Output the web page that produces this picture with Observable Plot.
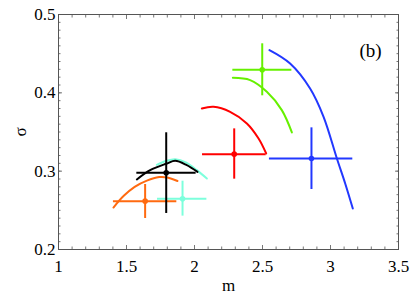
<!DOCTYPE html>
<html>
<head>
<meta charset="utf-8">
<script src="https://cdn.jsdelivr.net/npm/d3@7"></script>
<script src="https://cdn.jsdelivr.net/npm/@observablehq/plot@0.6"></script>
<style>
  html, body { margin: 0; padding: 0; background: #fff; }
  svg { display: block; }
  svg text { font-family: "Liberation Serif", "Times New Roman", serif; }
</style>
</head>
<body>
<div id="chart"></div>
<script>
// Series (named by id so they are not read as CSS colours)
const series = ["S1", "S2", "S3", "S4", "S5", "S6"];
const colors = ["#ff6a10", "#7dffdc", "#000000", "#ff0000", "#66f000", "#2238ff"];

// Points with error bars (m, sigma)
const pointM   = [1.637, 1.912, 1.792, 2.292, 2.498, 2.860];
const pointS   = [0.2617, 0.2647, 0.2979, 0.3217, 0.4294, 0.3162];
const mLow     = [1.404, 1.728, 1.576, 2.059, 2.282, 2.551];
const mHigh    = [1.870, 2.091, 2.012, 2.527, 2.716, 3.164];
const sLow     = [0.2396, 0.2426, 0.246, 0.2898, 0.3962, 0.2766];
const sHigh    = [0.283, 0.2872, 0.349, 0.354, 0.4626, 0.3553];

// Curves
const orangeCurveM = [1.404, 1.48, 1.56, 1.65, 1.74, 1.80, 1.875];
const orangeCurveS = [0.2536, 0.2685, 0.2800, 0.2880, 0.2925, 0.2920, 0.2875];
const cyanCurveM = [1.723, 1.79, 1.858, 1.94, 2.017, 2.091];
const cyanCurveS = [0.3081, 0.3130, 0.3153, 0.3110, 0.3013, 0.2906];
const blackCurveM = [1.576, 1.674, 1.797, 1.858, 1.94, 2.022];
const blackCurveS = [0.2894, 0.3013, 0.3098, 0.3132, 0.3080, 0.2991];
const redCurveM = [2.054, 2.140, 2.262, 2.385, 2.471, 2.527];
const redCurveS = [0.380, 0.3821, 0.3757, 0.3609, 0.3417, 0.3226];
const greenCurveM = [2.282, 2.409, 2.532, 2.642, 2.716];
const greenCurveS = [0.4191, 0.4162, 0.4013, 0.3779, 0.3494];
const blueCurveM = [2.551, 2.703, 2.850, 2.949, 3.047, 3.108, 3.164];
const blueCurveS = [0.4545, 0.4374, 0.4055, 0.3694, 0.3162, 0.2843, 0.2523];

// Axis ticks
const xTicks = [1, 1.5, 2, 2.5, 3, 3.5];
const yTicks = [0.2, 0.3, 0.4, 0.5];
const xMinor = d3.range(10, 36).map(d => d / 10);
const yMinor = d3.range(20, 51).map(d => d / 100);

const curveSets = [
  ["S2", cyanCurveM, cyanCurveS],
  ["S1", orangeCurveM, orangeCurveS],
  ["S3", blackCurveM, blackCurveS],
  ["S4", redCurveM, redCurveS],
  ["S5", greenCurveM, greenCurveS],
  ["S6", blueCurveM, blueCurveS]
];
const curves = curveSets.flatMap(([name, ms, ss]) => ms.map((m, i) => ({name, m, s: ss[i]})));
const points = series.map((name, i) => ({
  name, m: pointM[i], s: pointS[i], m1: mLow[i], m2: mHigh[i], s1: sLow[i], s2: sHigh[i]
}));
const order = ["S2", "S1", "S3", "S4", "S5", "S6"];
const pts = order.map(n => points.find(p => p.name === n));

const tickStroke = "#777";
const font = "Liberation Serif, Times New Roman, serif";

const chart = Plot.plot({
  width: 415,
  height: 298,
  marginLeft: 58,
  marginRight: 17,
  marginTop: 14,
  marginBottom: 49,
  style: {fontFamily: font, fontSize: "19px", background: "#fff", color: "#000"},
  x: {domain: [1, 3.5]},
  y: {domain: [0.2, 0.5]},
  color: {domain: series, range: colors},
  marks: [
    // minor/major inward ticks on all sides
    Plot.axisX(xMinor, {anchor: "bottom", tickSize: -2.5, text: null, label: null, stroke: tickStroke}),
    Plot.axisX(xMinor, {anchor: "top", tickSize: -2.5, text: null, label: null, stroke: tickStroke}),
    Plot.axisY(yMinor, {anchor: "left", tickSize: -2.5, text: null, label: null, stroke: tickStroke}),
    Plot.axisY(yMinor, {anchor: "right", tickSize: -2.5, text: null, label: null, stroke: tickStroke}),
    Plot.axisX(xTicks, {anchor: "bottom", tickSize: -4, text: null, label: null, stroke: tickStroke}),
    Plot.axisX(xTicks, {anchor: "top", tickSize: -4, text: null, label: null, stroke: tickStroke}),
    Plot.axisY(yTicks, {anchor: "left", tickSize: -4, text: null, label: null, stroke: tickStroke}),
    Plot.axisY(yTicks, {anchor: "right", tickSize: -4, text: null, label: null, stroke: tickStroke}),
    // labels
    Plot.axisX(xTicks, {anchor: "bottom", tickSize: 0, tickPadding: 10, tickFormat: d => String(d), fontSize: 17,
      label: "m", labelAnchor: "center", labelArrow: "none", labelOffset: 41}),
    Plot.axisY(yTicks, {anchor: "left", tickSize: 0, tickPadding: 3, tickFormat: d => d.toFixed(1), fontSize: 17,
      label: "σ", labelAnchor: "center", labelArrow: "none", labelOffset: 45}),
    Plot.frame({stroke: "#555", strokeWidth: 1}),
    // curves
    Plot.line(curves, {x: "m", y: "s", z: "name", stroke: "name", strokeWidth: 2, curve: "catmull-rom"}),
    // error bars
    Plot.ruleY(pts, {y: "s", x1: "m1", x2: "m2", stroke: "name", strokeWidth: 2}),
    Plot.ruleX(pts, {x: "m", y1: "s1", y2: "s2", stroke: "name", strokeWidth: 2}),
    Plot.dot(pts, {x: "m", y: "s", fill: "name", r: 2.8}),
    Plot.text(["(b)"], {frameAnchor: "top-right", dx: -28, dy: 29, textAnchor: "middle", fontSize: 19, fontFamily: font})
  ]
});
document.getElementById("chart").appendChild(chart);
</script>
</body>
</html>
